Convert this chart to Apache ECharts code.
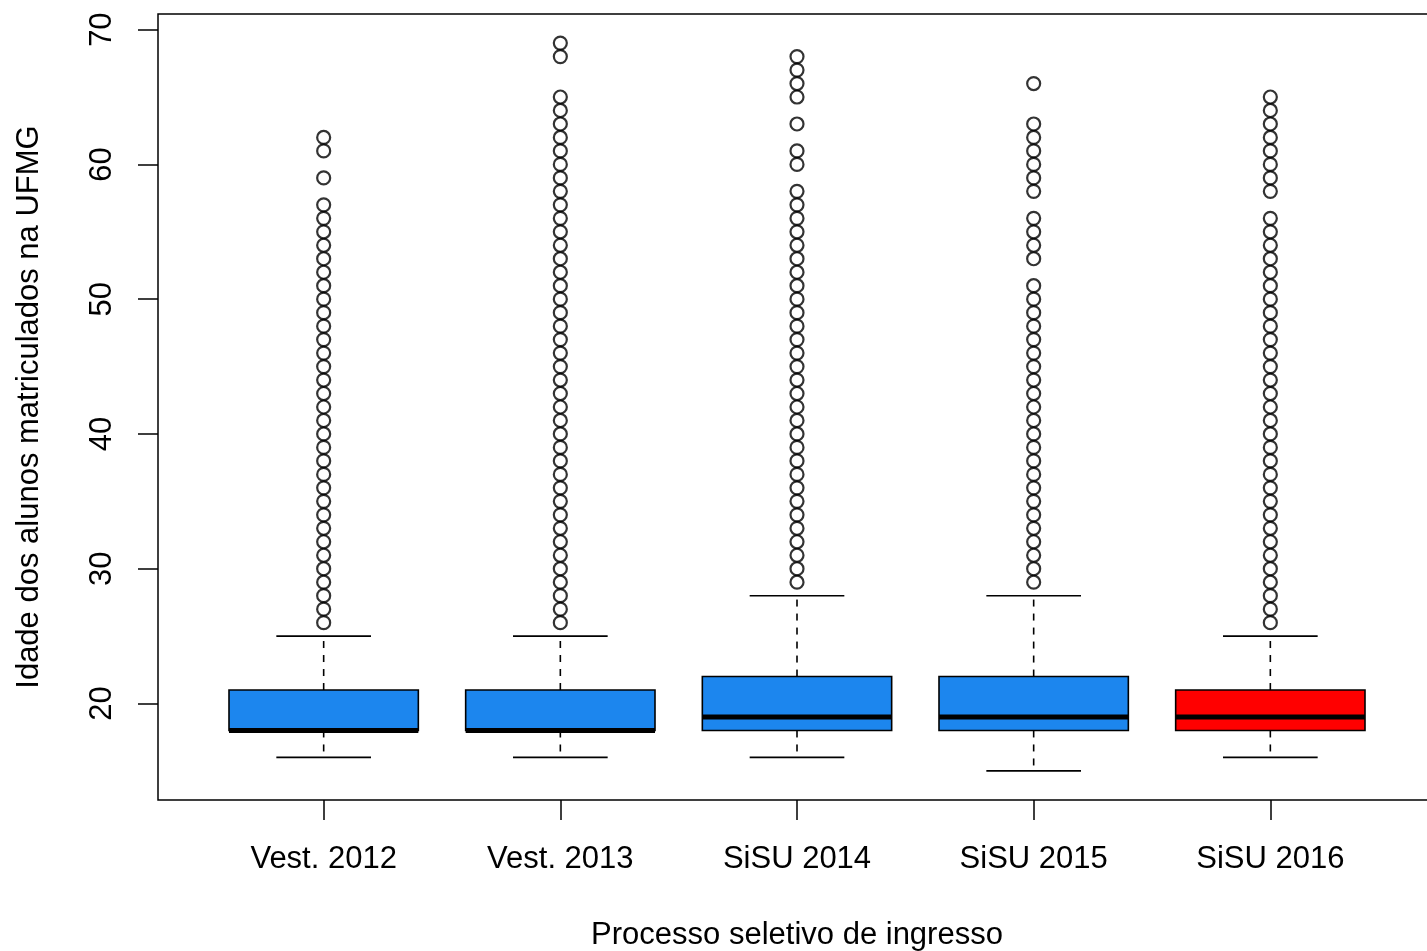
<!DOCTYPE html>
<html>
<head>
<meta charset="utf-8">
<script src="https://cdn.jsdelivr.net/npm/echarts@6.0.0/dist/echarts.min.js"></script>
<style>
  html, body { margin: 0; padding: 0; background: #fff; overflow: hidden; }
  #chart { width: 1427px; height: 951px; }
</style>
</head>
<body>
<div id="chart"></div>
<script>
// categories and box statistics (ages)
const categories = ["Vest. 2012", "Vest. 2013", "SiSU 2014", "SiSU 2015", "SiSU 2016"];
const whiskerLow = [16, 16, 16, 15, 16];
const q1 = [18, 18, 18, 18, 18];
const medians = [18, 18, 19, 19, 19];
const q3 = [21, 21, 22, 22, 21];
const whiskerHigh = [25, 25, 28, 28, 25];

// outliers
const outVest2012 = [26, 27, 28, 29, 30, 31, 32, 33, 34, 35, 36, 37, 38, 39, 40, 41, 42, 43, 44, 45, 46, 47, 48, 49, 50, 51, 52, 53, 54, 55, 56, 57, 59, 61, 62];
const outVest2013 = [26, 27, 28, 29, 30, 31, 32, 33, 34, 35, 36, 37, 38, 39, 40, 41, 42, 43, 44, 45, 46, 47, 48, 49, 50, 51, 52, 53, 54, 55, 56, 57, 58, 59, 60, 61, 62, 63, 64, 65, 68, 69];
const outSisu2014 = [29, 30, 31, 32, 33, 34, 35, 36, 37, 38, 39, 40, 41, 42, 43, 44, 45, 46, 47, 48, 49, 50, 51, 52, 53, 54, 55, 56, 57, 58, 60, 61, 63, 65, 66, 67, 68];
const outSisu2015 = [29, 30, 31, 32, 33, 34, 35, 36, 37, 38, 39, 40, 41, 42, 43, 44, 45, 46, 47, 48, 49, 50, 51, 53, 54, 55, 56, 58, 59, 60, 61, 62, 63, 66];
const outSisu2016 = [26, 27, 28, 29, 30, 31, 32, 33, 34, 35, 36, 37, 38, 39, 40, 41, 42, 43, 44, 45, 46, 47, 48, 49, 50, 51, 52, 53, 54, 55, 56, 58, 59, 60, 61, 62, 63, 64, 65];
const outliers = [outVest2012, outVest2013, outSisu2014, outSisu2015, outSisu2016];

const yTicks = [20, 30, 40, 50, 60, 70];
const xTicks = [1, 2, 3, 4, 5];

const boxColors = ["#1C86EE", "#1C86EE", "#1C86EE", "#1C86EE", "#FF0000"];
const font = "Liberation Sans";

let boxData = categories.map((c, i) => [i + 1, whiskerLow[i], q1[i], medians[i], q3[i], whiskerHigh[i], i]);
let pointData = [];
outliers.forEach((arr, i) => {
  arr.forEach(v => pointData.push([i + 1, v]));
});

function renderBox(params, api) {
  const x = api.value(0);
  const lo = api.coord([x, api.value(1)]);
  const b1 = api.coord([x, api.value(2)]);
  const md = api.coord([x, api.value(3)]);
  const b3 = api.coord([x, api.value(4)]);
  const hi = api.coord([x, api.value(5)]);
  const half = api.size([0.8, 0])[0] / 2;
  const cx = lo[0];
  const line = { stroke: "#000", lineWidth: 1.6 };
  const dashed = { stroke: "#000", lineWidth: 1.6, lineDash: [7, 7] };
  return {
    type: "group",
    children: [
      { type: "line", shape: { x1: cx, y1: b3[1], x2: cx, y2: hi[1] }, style: dashed },
      { type: "line", shape: { x1: cx, y1: b1[1], x2: cx, y2: lo[1] }, style: dashed },
      { type: "line", shape: { x1: cx - half / 2, y1: hi[1], x2: cx + half / 2, y2: hi[1] }, style: line },
      { type: "line", shape: { x1: cx - half / 2, y1: lo[1], x2: cx + half / 2, y2: lo[1] }, style: line },
      {
        type: "rect",
        shape: { x: cx - half, y: b3[1], width: half * 2, height: b1[1] - b3[1] },
        style: { fill: boxColors[api.value(6)], stroke: "#000", lineWidth: 1.6 }
      },
      { type: "line", shape: { x1: cx - half, y1: md[1], x2: cx + half, y2: md[1] }, style: { stroke: "#000", lineWidth: 5 } }
    ]
  };
}

const chart = echarts.init(document.getElementById("chart"));
chart.setOption({
  animation: false,
  backgroundColor: "#fff",
  grid: {
    show: true,
    left: 158,
    top: 14,
    right: -9,
    bottom: 151,
    outerBoundsMode: "none",
    containLabel: false,
    borderColor: "#000",
    borderWidth: 1.5,
    backgroundColor: "#fff"
  },
  xAxis: {
    type: "value",
    min: 0.3,
    max: 5.7,
    name: "Processo seletivo de ingresso",
    nameLocation: "middle",
    nameGap: 120,
    nameTextStyle: { fontFamily: font, fontSize: 31, color: "#000" },
    axisLine: { show: false },
    splitLine: { show: false },
    axisTick: {
      show: true,
      length: 20,
      customValues: xTicks,
      lineStyle: { color: "#000", width: 1.5 }
    },
    axisLabel: {
      customValues: xTicks,
      margin: 44,
      fontFamily: font,
      fontSize: 31,
      color: "#000",
      formatter: v => categories[Math.round(v) - 1] || ""
    }
  },
  yAxis: {
    type: "value",
    min: 12.84,
    max: 71.16,
    name: "Idade dos alunos matriculados na UFMG",
    nameLocation: "middle",
    nameGap: 113,
    nameRotate: 90,
    nameTextStyle: { fontFamily: font, fontSize: 31, color: "#000" },
    axisLine: { show: false },
    splitLine: { show: false },
    axisTick: {
      show: true,
      length: 20,
      customValues: yTicks,
      lineStyle: { color: "#000", width: 1.5 }
    },
    axisLabel: {
      customValues: yTicks,
      rotate: 90,
      margin: 40,
      fontFamily: font,
      fontSize: 31,
      color: "#000"
    }
  },
  series: [
    {
      type: "custom",
      renderItem: renderBox,
      data: boxData,
      encode: { x: 0, y: [1, 5] },
      z: 2
    },
    {
      type: "scatter",
      data: pointData,
      symbol: "circle",
      symbolSize: 13,
      itemStyle: { color: "rgba(0,0,0,0)", borderColor: "#000", borderWidth: 2.2 },
      z: 3
    }
  ]
});
</script>
</body>
</html>
